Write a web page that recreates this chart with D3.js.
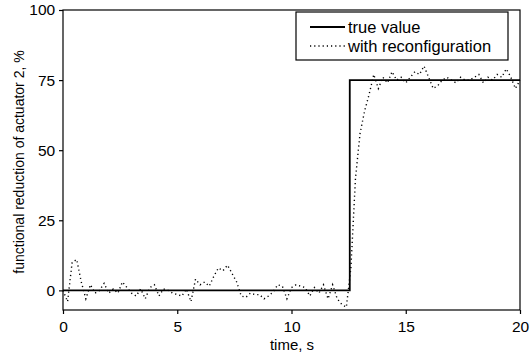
<!DOCTYPE html>
<html><head><meta charset="utf-8">
<script src="https://cdn.jsdelivr.net/npm/d3@7"></script>
<style>body{margin:0;background:#fff}svg{display:block}</style>
</head><body>
<svg id="c" width="530" height="362"></svg>
<script>
const xTicks = [0, 5, 10, 15, 20];
const yTicks = [0, 25, 50, 75, 100];
const trueT = [0, 12.55, 12.55, 20];
const trueV = [0, 0, 75, 75];
const recT = d3.range(0, 101).map(i => i * 0.2);
const recV = [
  0, -4, 10, 11, 3, -3, 2, -1, 0, 2.5,
  -1, 0.5, -1, 3, 1, -1, -2, 0.5, -3, 1,
  2, -2, 0.5, 0, -1, -1.5, -2, 0.5, -4, 4,
  2, 3, 1.5, 5, 8, 7, 9, 6, 3, -2,
  -2.5, -1, -1.5, -1.5, -3, -2, -0.5, 2, 1.5, -3,
  1, 2, 1.5, 1, -2, 1, -1, 2, -3, 2,
  -3, -5, -6, 8, 40, 56, 64, 70, 77, 72,
  76, 74, 78, 75, 76, 74, 76, 78, 77, 80,
  76, 72, 73, 75, 76, 75, 74, 76, 75, 75,
  76, 77, 74, 76, 75, 77, 76, 79, 76, 72,
  75
];
const legendLabels = ["true value", "with reconfiguration"];

const svg = d3.select("#c");
const L = 63, R = 520, T = 10, B = 310;
const x = d3.scaleLinear().domain([0, 20]).range([L, R]);
const y = d3.scaleLinear().domain([-7, 100]).range([B, T]);
const font = "Liberation Sans, Arial, Helvetica, sans-serif";

svg.append("rect").attr("x", L).attr("y", T).attr("width", R - L).attr("height", B - T)
  .attr("fill", "none").attr("stroke", "#000").attr("stroke-width", 1.2);

const xa = svg.append("g").attr("transform", `translate(0,${B})`)
  .call(d3.axisBottom(x).tickValues(xTicks).tickSize(4).tickSizeOuter(0));
const ya = svg.append("g").attr("transform", `translate(${L},0)`)
  .call(d3.axisLeft(y).tickValues(yTicks).tickSize(4).tickSizeOuter(0));
[xa, ya].forEach(a => {
  a.select(".domain").remove();
  a.selectAll("line").attr("stroke", "#000").attr("stroke-width", 1.2);
  a.selectAll("text").attr("font-family", font).attr("font-size", 15.5).attr("fill", "#000");
});
xa.selectAll("text").attr("dy", "0.95em");
ya.selectAll("text").attr("dx", "-0.05em");

svg.append("text").attr("x", 292).attr("y", 350).attr("text-anchor", "middle")
  .attr("font-family", font).attr("font-size", 15).text("time, s");
svg.append("text").attr("transform", `translate(24,162) rotate(-90)`)
  .attr("text-anchor", "middle").attr("font-family", font).attr("font-size", 14)
  .text("functional reduction of actuator 2, %");

const line = d3.line().x(d => x(d[0])).y(d => y(d[1]));
svg.append("path").datum(recT.map((t, i) => [t, recV[i]]))
  .attr("d", line).attr("fill", "none").attr("stroke", "#000")
  .attr("stroke-width", 1.4).attr("stroke-dasharray", "1.2,3");
svg.append("path").datum(trueT.map((t, i) => [t, trueV[i]]))
  .attr("d", line).attr("fill", "none").attr("stroke", "#000").attr("stroke-width", 1.8);

const lg = svg.append("g");
lg.append("rect").attr("x", 296).attr("y", 12).attr("width", 212).attr("height", 48)
  .attr("fill", "#fff").attr("stroke", "#000").attr("stroke-width", 1.2);
lg.append("line").attr("x1", 310).attr("x2", 345).attr("y1", 27).attr("y2", 27)
  .attr("stroke", "#000").attr("stroke-width", 1.8);
lg.append("line").attr("x1", 310).attr("x2", 345).attr("y1", 46).attr("y2", 46)
  .attr("stroke", "#000").attr("stroke-width", 1.4).attr("stroke-dasharray", "1.2,3");
legendLabels.forEach((s, i) => {
  lg.append("text").attr("x", 348).attr("y", 33 + i * 19).attr("font-family", font)
    .attr("font-size", 16.5).text(s);
});
</script>
</body></html>
